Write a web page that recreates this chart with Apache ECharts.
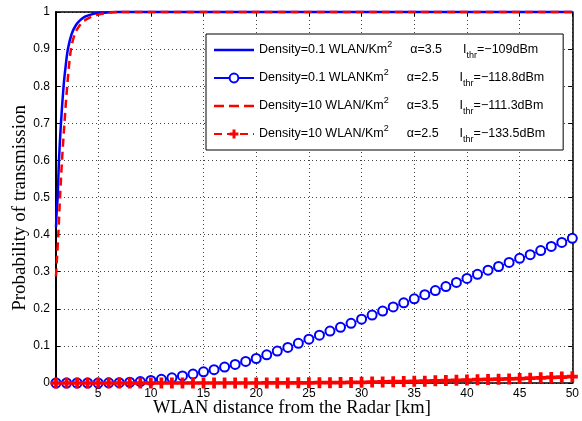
<!DOCTYPE html>
<html>
<head>
<meta charset="utf-8">
<script src="https://cdn.jsdelivr.net/npm/echarts@6/dist/echarts.min.js"></script>
<style>
  html, body { margin: 0; padding: 0; background: #fff; }
  #container1 { width: 582px; height: 421px; }
</style>
</head>
<body>
<div id="container1"></div>
<script>
// x ticks / labels
var xTicks = [5, 10, 15, 20, 25, 30, 35, 40, 45, 50];
var distance = [];
for (var k = 1; k <= 50; k++) distance.push(k);

// density 0.1, alpha 3.5 (solid blue)
var dens01a35 = [[1, 0.42], [1.08, 0.47], [1.16, 0.5], [1.28, 0.6], [1.47, 0.7], [1.72, 0.8], [1.9, 0.85],
    [2.13, 0.9], [2.5, 0.942], [2.9, 0.965], [3.3, 0.978], [3.8, 0.988], [4.3, 0.993], [5, 0.997],
    [6, 0.999], [7, 1], [50, 1]];
// density 0.1, alpha 2.5 (blue circles, one per km)
var dens01a25 = [0, 0, 0, 0, 0, 0.0005, 0.001, 0.002, 0.004, 0.007,
    0.010, 0.014, 0.019, 0.024, 0.030, 0.036, 0.043, 0.050, 0.058, 0.066,
    0.076, 0.086, 0.096, 0.107, 0.118, 0.129, 0.140, 0.150, 0.161, 0.172,
    0.183, 0.194, 0.205, 0.216, 0.227, 0.238, 0.249, 0.260, 0.271, 0.282,
    0.293, 0.304, 0.314, 0.325, 0.336, 0.346, 0.357, 0.368, 0.379, 0.390];
// density 10, alpha 3.5 (dashed red)
var dens10a35 = [[1, 0.287], [1.1, 0.34], [1.22, 0.4], [1.38, 0.5], [1.57, 0.6], [1.8, 0.7], [2.06, 0.8],
    [2.42, 0.9], [2.8, 0.942], [3.2, 0.962], [3.6, 0.975], [4.2, 0.985], [5, 0.993], [6, 0.998],
    [7, 1], [50, 1]];
// density 10, alpha 2.5 (red plus)
var dens10a25 = [0, 0, 0, 0, 0, 0, 0, 0, 0, 0,
    0, 0, 0, 0, 0, 0, 0, 0, 0, 0,
    0.0001, 0.0002, 0.0003, 0.0004, 0.0005, 0.0008, 0.001, 0.0013, 0.0016, 0.002,
    0.0025, 0.003, 0.0035, 0.004, 0.0045, 0.005, 0.0058, 0.0065, 0.0072, 0.008,
    0.0088, 0.0095, 0.0103, 0.011, 0.012, 0.013, 0.014, 0.015, 0.016, 0.017];

var legendDensity = ['Density=0.1 WLAN/Km', 'Density=0.1 WLANKm', 'Density=10 WLAN/Km', 'Density=10 WLAN/Km'];
var legendAlpha = ['α=3.5', 'α=2.5', 'α=3.5', 'α=2.5'];
var legendIthr = ['=−109dBm', '=−118.8dBm', '=−111.3dBm', '=−133.5dBm'];
var seriesNames = ['s1', 's2', 's3', 's4'];

function pairs(ys) {
    return ys.map(function (y, i) { return [distance[i], y]; });
}

var plusPath = 'path://M3.3,0H6.7V3.3H10V6.7H6.7V10H3.3V6.7H0V3.3H3.3Z';
var solidIcon = 'path://M0,0H40V2.5H0Z';
var dashIcon = 'path://M0,0H10V2.5H0Z M15,0H25V2.5H15Z M30,0H40V2.5H30Z';
var font = 'Liberation Sans, Arial, sans-serif';
var fs = 12.5;

var myChart = echarts.init(document.getElementById('container1'));
var option = {
    animation: false,
    grid: {
        left: 56, right: 4, top: 12, bottom: 38,
        show: false
    },
    xAxis: [{
        type: 'value',
        min: 1, max: 50,
        axisLine: { show: true, onZero: false, lineStyle: { color: '#000', width: 1.5 } },
        axisTick: { show: true, inside: true, length: 4, customValues: xTicks, lineStyle: { color: '#000' } },
        axisLabel: { customValues: xTicks, margin: 5, color: '#000', fontSize: 12, fontFamily: font },
        splitLine: { show: true, lineStyle: { color: '#444', type: [1, 3], width: 1 } }
    }, {
        type: 'value',
        position: 'top',
        min: 1, max: 50,
        axisLine: { show: true, onZero: false, lineStyle: { color: '#000', width: 1.5 } },
        axisTick: { show: true, inside: true, length: 4, customValues: xTicks, lineStyle: { color: '#000' } },
        axisLabel: { show: false },
        splitLine: { show: false }
    }],
    yAxis: [{
        type: 'value',
        min: 0, max: 1, interval: 0.1,
        axisLine: { show: true, onZero: false, lineStyle: { color: '#000', width: 2 } },
        axisTick: { show: true, inside: true, length: 4, lineStyle: { color: '#000' } },
        axisLabel: { margin: 6, color: '#000', fontSize: 12, fontFamily: font },
        splitLine: { show: true, lineStyle: { color: '#444', type: [1, 3], width: 1 } }
    }, {
        type: 'value',
        position: 'right',
        min: 0, max: 1, interval: 0.1,
        axisLine: { show: true, onZero: false, lineStyle: { color: '#000', width: 1.5 } },
        axisTick: { show: true, inside: true, length: 4, lineStyle: { color: '#000' } },
        axisLabel: { show: false },
        splitLine: { show: false }
    }],
    legend: {
        left: 206, top: 34,
        orient: 'vertical',
        data: [
            { name: 's1', icon: solidIcon },
            { name: 's2' },
            { name: 's3', icon: dashIcon },
            { name: 's4' }
        ],
        itemWidth: 40, itemHeight: 11, itemGap: 8,
        padding: [6, 18, 6, 7],
        backgroundColor: '#fff',
        borderColor: '#000', borderWidth: 1, borderRadius: 0,
        formatter: function (name) {
            var i = seriesNames.indexOf(name);
            return '{d|' + legendDensity[i] + '}{sup|2}{a|' + legendAlpha[i] + '}{i|I}{sub|thr}{v|' + legendIthr[i] + '}';
        },
        textStyle: {
            color: '#000', fontSize: fs, fontFamily: font,
            rich: {
                d: { fontSize: fs, lineHeight: 20, fontFamily: font, color: '#000' },
                sup: { fontSize: 9, lineHeight: 11, verticalAlign: 'top', fontFamily: font, color: '#000' },
                a: { fontSize: fs, lineHeight: 20, padding: [0, 0, 0, 18], fontFamily: font, color: '#000' },
                i: { fontSize: fs, lineHeight: 20, padding: [0, 0, 0, 21], fontFamily: font, color: '#000' },
                sub: { fontSize: 9, lineHeight: 10, verticalAlign: 'bottom', fontFamily: font, color: '#000' },
                v: { fontSize: fs, lineHeight: 20, fontFamily: font, color: '#000' }
            }
        }
    },
    graphic: [{
        type: 'text',
        left: 153, top: 399,
        style: { text: 'WLAN distance from the Radar [km]', font: '18.5px "Liberation Serif", "Times New Roman", serif', fill: '#000' }
    }, {
        type: 'text',
        left: 11, top: 105,
        rotation: Math.PI / 2,
        style: { text: 'Probability of transmission', font: '19px "Liberation Serif", "Times New Roman", serif', fill: '#000' }
    }],
    series: [{
        name: 's1',
        type: 'line',
        data: dens01a35,
        symbol: 'none',
        smooth: 0.3,
        clip: false,
        color: '#0000ff',
        lineStyle: { color: '#0000ff', width: 2.5 }
    }, {
        name: 's2',
        type: 'line',
        data: pairs(dens01a25),
        symbol: 'emptyCircle',
        symbolSize: 9,
        color: '#0000ff',
        itemStyle: { color: '#0000ff', borderColor: '#0000ff', borderWidth: 1 },
        lineStyle: { color: '#0000ff', width: 1 }
    }, {
        name: 's3',
        type: 'line',
        data: dens10a35,
        symbol: 'none',
        smooth: 0.3,
        clip: false,
        color: '#ff0000',
        lineStyle: { color: '#ff0000', width: 2.5, type: [8, 5] }
    }, {
        name: 's4',
        type: 'line',
        data: pairs(dens10a25),
        symbol: plusPath,
        symbolSize: 11,
        color: '#ff0000',
        itemStyle: { color: '#ff0000' },
        lineStyle: { color: '#ff0000', width: 2.5, type: [8, 5] }
    }]
};
myChart.setOption(option);
</script>
</body>
</html>
